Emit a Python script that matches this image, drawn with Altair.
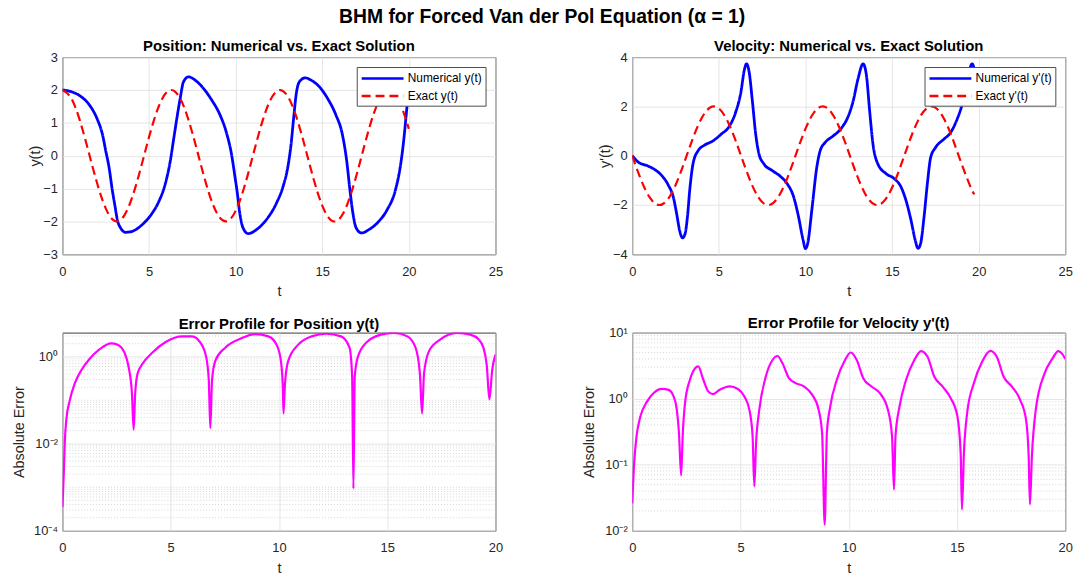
import altair as alt
import pandas as pd

FONT = "Liberation Sans"
W, H_TOP, H_BOT = 437, 199, 200

MAIN_TITLE = "BHM for Forced Van der Pol Equation (α = 1)"
PANEL_TITLES = [
    "Position: Numerical vs. Exact Solution",
    "Velocity: Numerical vs. Exact Solution",
    "Error Profile for Position y(t)",
    "Error Profile for Velocity y'(t)",
]
POS_NAMES = ["Numerical y(t)", "Exact y(t)"]
VEL_NAMES = ["Numerical y'(t)", "Exact y'(t)"]

X_TOP_TICKS = [0, 5, 10, 15, 20, 25]
X_BOT_TICKS = [0, 5, 10, 15, 20]
POS_TICKS = [-3, -2, -1, 0, 1, 2, 3]
VEL_TICKS = [-4, -2, 0, 2, 4]

# ---- numerical position y(t)
t_pos = [0, 0.5, 1.07, 1.55, 2.02, 2.31, 2.5, 2.69, 2.88, 3.04,
         3.17, 3.36, 3.65, 4.03, 4.6, 5.18, 5.56, 5.94, 6.23, 6.42,
         6.61, 6.8, 6.99, 7.28, 7.66, 8.14, 8.61, 9.09, 9.47, 9.76,
         9.95, 10.1, 10.24, 10.43, 10.72, 11.2, 11.77, 12.35, 12.73, 13.01,
         13.2, 13.35, 13.49, 13.68, 14.02, 14.35, 14.83, 15.3, 15.78, 16.16,
         16.41, 16.6, 16.77, 16.96, 17.27, 17.69, 18.26, 18.74, 19.22, 19.5,
         19.7, 19.83, 20.0]
y_pos = [2.0, 1.95, 1.8, 1.55, 1.1, 0.65, 0.15, -0.35, -1.05, -1.55,
         -1.95, -2.2, -2.33, -2.3, -2.1, -1.75, -1.4, -0.85, -0.15, 0.5,
         1.15, 1.75, 2.25, 2.4, 2.3, 2.05, 1.7, 1.25, 0.7, 0.05,
         -0.6, -1.15, -1.75, -2.2, -2.37, -2.25, -1.95, -1.45, -0.95, -0.35,
         0.35, 1.15, 1.85, 2.25, 2.37, 2.3, 2.1, 1.75, 1.25, 0.65,
         -0.15, -1.05, -1.75, -2.2, -2.35, -2.25, -2.0, -1.65, -1.05, -0.35,
         0.45, 1.15, 2.1]

# ---- exact position
t_ex_pos = [0, 0.5, 1, 1.5, 2, 2.5, 3, 3.5, 4, 4.5, 5, 5.5, 6, 6.5, 7, 7.5, 8, 8.5, 9, 9.5,
            10, 10.5, 11, 11.5, 12, 12.5, 13, 13.5, 14, 14.5, 15, 15.5, 16, 16.5, 17, 17.5,
            18, 18.5, 19, 19.5, 20]
y_ex_pos = [2.0, 1.755, 1.081, 0.141, -0.832, -1.602, -1.98, -1.873, -1.307, -0.421,
            0.567, 1.417, 1.92, 1.953, 1.508, 0.693, -0.291, -1.204, -1.822, -1.994,
            -1.678, -0.952, 0.009, 0.969, 1.688, 1.994, 1.815, 1.189, 0.273, -0.708,
            -1.519, -1.958, -1.916, -1.401, -0.55, 0.44, 1.32, 1.876, 1.977, 1.594, 0.816]

# ---- numerical velocity y'(t)
t_vel = [0, 0.37, 0.85, 1.32, 1.7, 2.09, 2.37, 2.56, 2.75, 2.9,
         3.04, 3.19, 3.32, 3.51, 3.8, 4.18, 4.66, 5.13, 5.61, 5.99,
         6.28, 6.47, 6.6, 6.75, 6.94, 7.13, 7.32, 7.6, 8.08, 8.56,
         8.94, 9.32, 9.6, 9.86, 10.0, 10.14, 10.37, 10.66, 10.85, 11.13,
         11.6, 12.09, 12.47, 12.75, 13.04, 13.33, 13.52, 13.71, 13.9, 14.18,
         14.66, 15.13, 15.52, 15.8, 16.09, 16.33, 16.5, 16.66, 16.85, 17.04,
         17.23, 17.51, 17.99, 18.37, 18.75, 19.04, 19.32, 19.5, 19.62, 19.77,
         19.9, 20.0]
v_vel = [0, -0.27, -0.4, -0.57, -0.8, -1.2, -1.67, -2.33, -3.07, -3.33,
         -3.2, -2.47, -1.4, -0.33, 0.2, 0.43, 0.6, 0.87, 1.2, 1.8,
         2.6, 3.47, 3.73, 3.4, 2.2, 0.87, 0.07, -0.33, -0.6, -0.84,
         -1.13, -1.67, -2.47, -3.4, -3.77, -3.53, -2.2, -0.45, 0.2, 0.53,
         0.8, 1.13, 1.6, 2.2, 3.13, 3.73, 3.27, 1.8, 0.47, -0.33,
         -0.73, -0.93, -1.27, -1.8, -2.6, -3.4, -3.76, -3.53, -2.47, -1.13,
         -0.07, 0.33, 0.67, 0.93, 1.47, 2.07, 3.0, 3.55, 3.73, 3.4,
         2.6, 2.1]

# ---- exact velocity
t_ex_vel = [0, 0.5, 1, 1.5, 2, 2.5, 3, 3.5, 4, 4.5, 5, 5.5, 6, 6.5, 7, 7.5, 8, 8.5, 9, 9.5,
            10, 10.5, 11, 11.5, 12, 12.5, 13, 13.5, 14, 14.5, 15, 15.5, 16, 16.5, 17, 17.5,
            18, 18.5, 19, 19.5, 19.75]
v_ex_vel = [0.0, -0.959, -1.683, -1.995, -1.819, -1.197, -0.282, 0.702, 1.514, 1.955,
            1.918, 1.411, 0.559, -0.43, -1.314, -1.876, -1.979, -1.596, -0.824, 0.15,
            1.088, 1.759, 2.0, 1.75, 1.073, 0.133, -0.841, -1.607, -1.981, -1.869,
            -1.301, -0.412, 0.576, 1.424, 1.922, 1.951, 1.502, 0.684, -0.3, -1.211, -1.567]

# ---- absolute error, position
t_err_pos = [0, 0.06, 0.11, 0.18, 0.34, 0.57, 0.87, 1.25, 1.71, 2.25,
             2.55, 2.86, 3.06, 3.21, 3.29, 3.36, 3.47, 3.7, 4.16, 4.77,
             5.53, 5.99, 6.38, 6.64, 6.76, 6.83, 6.91, 7.06, 7.52, 8.29,
             8.9, 9.51, 9.89, 10.09, 10.18, 10.21, 10.28, 10.43, 10.89, 11.5,
             12.19, 12.87, 13.26, 13.38, 13.44, 13.5, 13.64, 14.02, 14.71, 15.32,
             15.93, 16.31, 16.51, 16.61, 16.7, 16.93, 17.46, 18.23, 18.84, 19.22,
             19.45, 19.6, 19.72, 19.85, 20.0]
e_pos = [3.5e-4, 1.9e-3, 0.011, 0.036, 0.10, 0.245, 0.49, 0.89, 1.48, 2.04,
         1.9, 1.26, 0.575, 0.145, 0.021, 0.145, 0.41, 0.69, 1.26, 2.19,
         2.95, 2.95, 2.09, 0.98, 0.29, 0.023, 0.29, 0.81, 1.62, 2.69,
         3.31, 2.95, 1.9, 0.81, 0.2, 0.05, 0.245, 0.81, 1.9, 2.95,
         3.39, 2.95, 1.62, 0.35, 9.3e-4, 0.35, 0.98, 2.09, 3.24, 3.55,
         2.95, 1.62, 0.41, 0.05, 0.41, 1.35, 2.51, 3.55, 3.24, 2.51,
         1.58, 0.63, 0.105, 0.5, 1.12]

# ---- absolute error, velocity
t_err_vel = [0, 0.08, 0.2, 0.38, 0.69, 0.99, 1.37, 1.68, 1.91, 2.06,
             2.16, 2.26, 2.33, 2.44, 2.67, 2.9, 3.05, 3.28, 3.51, 3.73,
             4.04, 4.5, 4.88, 5.18, 5.41, 5.56, 5.64, 5.72, 5.87, 6.17,
             6.48, 6.71, 6.94, 7.24, 7.55, 7.93, 8.31, 8.61, 8.77, 8.89,
             8.99, 9.15, 9.45, 9.83, 10.09, 10.37, 10.67, 11.05, 11.43, 11.81,
             12.0, 12.09, 12.16, 12.35, 12.65, 13.03, 13.34, 13.64, 13.95, 14.33,
             14.71, 15.02, 15.17, 15.23, 15.32, 15.47, 15.78, 16.16, 16.54, 16.84,
             17.15, 17.53, 17.91, 18.19, 18.31, 18.37, 18.46, 18.64, 19.05, 19.4,
             19.68, 19.85, 20.0]
e_vel = [0.026, 0.095, 0.27, 0.54, 0.91, 1.22, 1.41, 1.36, 1.08, 0.68,
         0.30, 0.069, 0.27, 0.86, 1.95, 2.88, 3.09, 1.95, 1.29, 1.17,
         1.36, 1.53, 1.40, 1.08, 0.68, 0.27, 0.047, 0.21, 0.68, 2.16,
         3.85, 4.42, 3.43, 2.04, 1.72, 1.53, 1.15, 0.68, 0.30, 0.0123,
         0.30, 0.77, 1.93, 3.85, 5.0, 3.85, 2.04, 1.53, 1.22, 0.68,
         0.27, 0.042, 0.27, 0.77, 1.93, 3.85, 5.25, 4.31, 2.16, 1.53,
         1.02, 0.54, 0.15, 0.021, 0.15, 0.61, 1.72, 3.63, 5.3, 4.31,
         2.16, 1.53, 0.97, 0.48, 0.135, 0.025, 0.135, 0.68, 2.43, 4.0,
         5.25, 4.8, 4.0]

# ---- log axes: major ticks, labels, minor grid values
BL_TICKS = [1e-4, 1e-2, 1.0]
BL_LABELS = ["10⁻⁴", "10⁻²", "10⁰"]
BR_TICKS = [1e-2, 1e-1, 1.0, 10.0]
BR_LABELS = ["10⁻²", "10⁻¹", "10⁰", "10¹"]
BL_MINOR = [k * 10.0 ** d for d in (-4, -3, -2, -1) for k in range(1, 10)
            if not (k == 1 and d in (-4, -2))] + [2.0, 3.0]
BR_MINOR = [k * 10.0 ** d for d in (-2, -1, 0) for k in range(2, 10)]


def label_expr(ticks, labels):
    expr = "''"
    for v, lab in reversed(list(zip(ticks, labels))):
        expr = f"(abs(datum.value - {v:.10f}) < {v * 0.01:.12f}) ? '{lab}' : ({expr})"
    return expr


def panel_title(text, offset):
    return alt.TitleParams(text, fontSize=15, fontWeight="bold", font=FONT,
                           color="black", offset=offset, anchor="middle", frame="group")


def x_axis(ticks):
    return alt.Axis(values=ticks, title="t", labelPadding=11, titlePadding=7)


def top_panel(t_num, y_num, t_ex, y_ex, names, title, ytitle, ydom, yticks, toff):
    num_df = pd.DataFrame({"t": t_num, "y": y_num, "s": names[0]})
    ex_df = pd.DataFrame({"t": t_ex, "y": y_ex, "s": names[1]})
    x = alt.X("t:Q", scale=alt.Scale(domain=[0, 25], nice=False, zero=False),
              axis=x_axis(X_TOP_TICKS))
    y = alt.Y("y:Q", scale=alt.Scale(domain=ydom, nice=False, zero=False),
              axis=alt.Axis(values=yticks, title=ytitle, titleX=-27, titleY=H_TOP / 2,
                            titleBaseline="middle", labelPadding=5))
    leg = alt.Legend(title=None, orient="top-right", offset=10, fillColor="white",
                     strokeColor="#4d4d4d", padding=3.5, symbolType="M-1,0H5.5",
                     symbolSize=169, symbolStrokeWidth=2.5, labelOffset=32,
                     labelFontSize=12, labelColor="black", labelFont=FONT, rowPadding=3.7)
    color = alt.Color("s:N", scale=alt.Scale(domain=names, range=["#0000ff", "#ff0000"]),
                      legend=leg)
    dash = alt.StrokeDash("s:N", scale=alt.Scale(domain=names, range=[[1, 0], [9, 5]]),
                          legend=leg)
    num = alt.Chart(num_df).mark_line(strokeWidth=2.8, interpolate="monotone", clip=True).encode(
        x=x, y=y, color=color, strokeDash=dash)
    ex = alt.Chart(ex_df).mark_line(strokeWidth=2.2, interpolate="natural", clip=True).encode(
        x=x, y=y, color=color, strokeDash=dash)
    return alt.layer(num, ex).properties(width=W, height=H_TOP, title=panel_title(title, toff))


def bot_panel(t, e, title, ydom, ticks, labels, minor, toff):
    df = pd.DataFrame({"t": t, "y": e})
    grid_df = pd.DataFrame({"y": minor})
    yaxis = alt.Axis(values=ticks, labelExpr=label_expr(ticks, labels), title="Absolute Error",
                     titleX=-43, titleY=H_BOT / 2, titleBaseline="middle", labelPadding=5)
    yenc = alt.Y("y:Q", scale=alt.Scale(type="log", domain=ydom, nice=False), axis=yaxis)
    x = alt.X("t:Q", scale=alt.Scale(domain=[0, 20], nice=False, zero=False),
              axis=x_axis(X_BOT_TICKS))
    rules = alt.Chart(grid_df).mark_rule(color="#c4c4c4", strokeWidth=0.7,
                                         strokeDash=[1, 2]).encode(y=yenc)
    line = alt.Chart(df).mark_line(color="#ff00ff", strokeWidth=2.2, interpolate="monotone",
                                   clip=True).encode(x=x, y=yenc)
    return alt.layer(rules, line).properties(width=W, height=H_BOT, title=panel_title(title, toff))


tl = top_panel(t_pos, y_pos, t_ex_pos, y_ex_pos, POS_NAMES, PANEL_TITLES[0], "y(t)",
               [-3, 3], POS_TICKS, -3)
tr = top_panel(t_vel, v_vel, t_ex_vel, v_ex_vel, VEL_NAMES, PANEL_TITLES[1], "y'(t)",
               [-4, 4], VEL_TICKS, -3)
bl = bot_panel(t_err_pos, e_pos, PANEL_TITLES[2], [1e-4, 3.6], BL_TICKS, BL_LABELS, BL_MINOR, 1)
br = bot_panel(t_err_vel, e_vel, PANEL_TITLES[3], [1e-2, 10.0], BR_TICKS, BR_LABELS, BR_MINOR, -4)

chart = alt.concat(
    tl, tr, bl, br, columns=2, spacing={"row": 79, "column": 138}, bounds="flush",
    title=alt.TitleParams(MAIN_TITLE, fontSize=19.5, fontWeight="bold", font=FONT,
                          color="black", offset=11, anchor="middle"),
).resolve_scale(
    x="independent", y="independent", color="independent", strokeDash="independent",
).resolve_legend(
    color="independent", strokeDash="independent",
).properties(
    padding={"left": 11, "top": 5, "right": 19, "bottom": 0},
    background="white",
).configure_axis(
    labelFont=FONT, labelFontSize=13, labelColor="#262626", labelFlush=False,
    titleFont=FONT, titleFontSize=14.5, titleFontWeight="normal", titleColor="#262626",
    grid=True, gridColor="#dedede", gridWidth=0.8, domain=False, ticks=False, tickSize=0,
).configure_view(
    stroke="#3c3c3c", strokeWidth=1,
).configure_legend(
    labelFont=FONT,
)

chart.save("out.html", embed_options={"renderer": "svg", "actions": False})
